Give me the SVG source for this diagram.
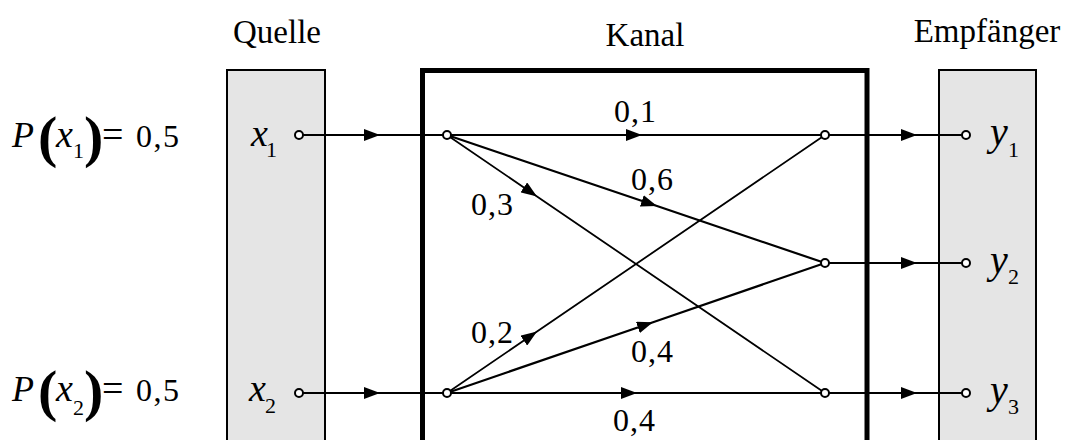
<svg xmlns="http://www.w3.org/2000/svg" width="1065" height="440" viewBox="0 0 1065 440">
<style>
.t{font-family:"Liberation Serif",serif;fill:#000}
.it{font-style:italic}
.box{fill:#e5e5e5;stroke:#000;stroke-width:2}
.kanal{fill:none;stroke:#000;stroke-width:5}
.ln{fill:none;stroke:#000;stroke-width:2.2;marker-mid:url(#ah)}
.pt{fill:#fff;stroke:#000;stroke-width:2}
</style>
<defs>
<marker id="ah" viewBox="0 0 16 12" refX="16" refY="6" markerWidth="16" markerHeight="12" markerUnits="userSpaceOnUse" orient="auto">
<path d="M0,0 L16,6 L0,12 z" fill="#000"/>
</marker>
</defs>
<rect width="1065" height="440" fill="#fff"/>

<g id="probs">
<text class="t it" font-size="36" x="12" y="147">P</text>
<text class="t" font-size="58" font-weight="bold" y="156"><tspan x="38">(</tspan><tspan x="84">)</tspan></text>
<text class="t it" font-size="38" x="56" y="147">x</text>
<text class="t" font-size="22" x="73" y="158">1</text>
<text class="t" font-size="38" x="102" y="147">=</text>
<text class="t" font-size="32" x="136" y="147" letter-spacing="1.5">0,5</text>

<text class="t it" font-size="36" x="12" y="401">P</text>
<text class="t" font-size="58" font-weight="bold" y="410"><tspan x="38">(</tspan><tspan x="84">)</tspan></text>
<text class="t it" font-size="38" x="56" y="401">x</text>
<text class="t" font-size="22" x="73" y="415">2</text>
<text class="t" font-size="38" x="102" y="401">=</text>
<text class="t" font-size="32" x="136" y="401" letter-spacing="1.5">0,5</text>
</g>

<g id="quelle">
<rect class="box" x="227" y="70" width="98" height="400"/>
<text class="t" font-size="33" x="277" y="43" text-anchor="middle">Quelle</text>
<text class="t it" font-size="38" x="251" y="146">x</text>
<text class="t" font-size="22" x="266" y="157">1</text>
<text class="t it" font-size="38" x="249" y="401">x</text>
<text class="t" font-size="22" x="265" y="413">2</text>
</g>

<g id="kanal">
<rect class="kanal" x="422.5" y="70.5" width="444.5" height="400"/>
<text class="t" font-size="33" x="645" y="46" text-anchor="middle">Kanal</text>
</g>

<g id="empfaenger">
<rect class="box" x="939" y="70" width="97" height="400"/>
<text class="t" font-size="33" x="987" y="42" text-anchor="middle">Empfänger</text>
<text class="t it" font-size="40" x="990" y="145">y</text>
<text class="t" font-size="22" x="1008" y="157">1</text>
<text class="t it" font-size="40" x="990" y="273">y</text>
<text class="t" font-size="22" x="1008" y="284">2</text>
<text class="t it" font-size="40" x="990" y="403">y</text>
<text class="t" font-size="22" x="1008" y="414">3</text>
</g>

<g id="connectors">
<path class="ln" d="M299,135 L380,135 L447,135"/>
<path class="ln" d="M299,393 L380,393 L447,393"/>
<path class="ln" d="M447,135 L642,135 L825,135"/>
<path class="ln" d="M447,135 L657,206 L825,263"/>
<path class="ln" d="M447,135 L537,196.4 L825,393" style="stroke-width:1.8"/>
<path class="ln" d="M447,393 L537,331.6 L825,135" style="stroke-width:1.8"/>
<path class="ln" d="M447,393 L653,322.2 L825,263"/>
<path class="ln" d="M447,393 L637,393 L825,393"/>
<path class="ln" d="M825,135 L917,135 L966,135"/>
<path class="ln" d="M825,263 L917,263 L966,263"/>
<path class="ln" d="M825,393 L917,393 L966,393"/>
</g>

<g id="labels">
<text class="t" font-size="32" x="614" y="122" letter-spacing="1">0,1</text>
<text class="t" font-size="32" x="631" y="190" letter-spacing="1">0,6</text>
<text class="t" font-size="32" x="471" y="215" letter-spacing="1">0,3</text>
<text class="t" font-size="32" x="471" y="343" letter-spacing="1">0,2</text>
<text class="t" font-size="32" x="631" y="362" letter-spacing="1">0,4</text>
<text class="t" font-size="32" x="613" y="431" letter-spacing="1">0,4</text>
</g>

<g id="points">
<circle class="pt" cx="299" cy="135" r="4"/>
<circle class="pt" cx="299" cy="393" r="4"/>
<circle class="pt" cx="447" cy="135" r="4"/>
<circle class="pt" cx="447" cy="393" r="4"/>
<circle class="pt" cx="825" cy="135" r="4"/>
<circle class="pt" cx="825" cy="263" r="4"/>
<circle class="pt" cx="825" cy="393" r="4"/>
<circle class="pt" cx="966" cy="135" r="4"/>
<circle class="pt" cx="966" cy="263" r="4"/>
<circle class="pt" cx="966" cy="393" r="4"/>
</g>
</svg>
